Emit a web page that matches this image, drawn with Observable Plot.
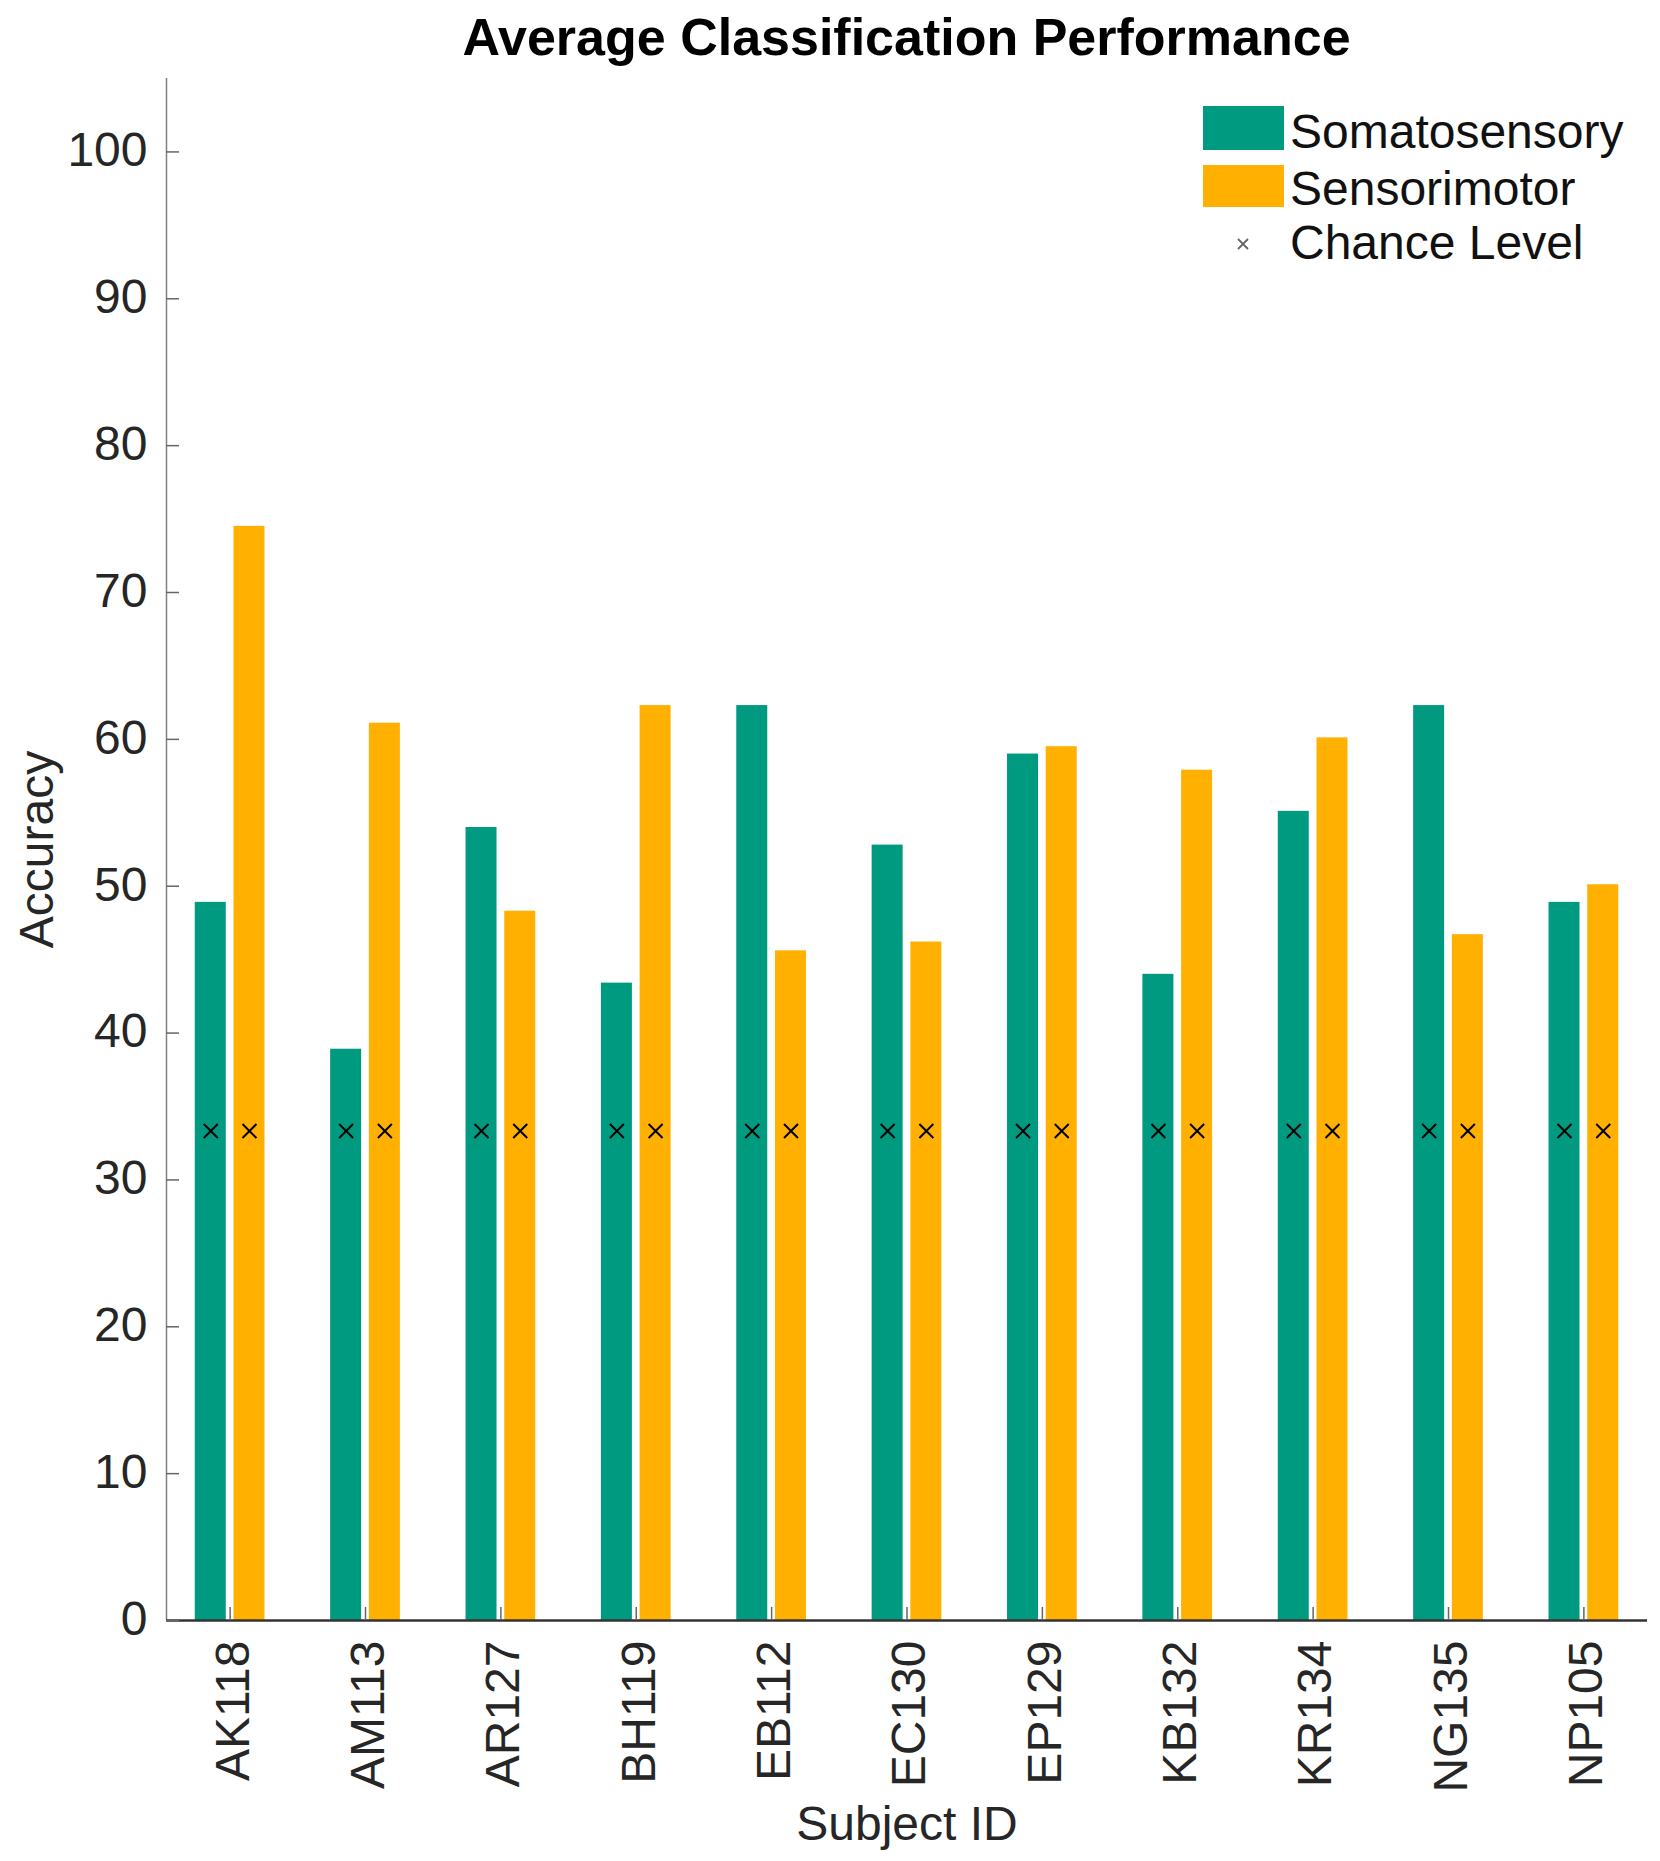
<!DOCTYPE html>
<html>
<head>
<meta charset="utf-8">
<script src="https://cdn.jsdelivr.net/npm/d3@7"></script>
<script src="https://cdn.jsdelivr.net/npm/@observablehq/plot@0.6"></script>
<style>
  body { margin: 0; background: #fff; font-family: "Liberation Sans", Arial, Helvetica, sans-serif; }
  #wrap { position: relative; width: 1660px; height: 1861px; overflow: hidden; }
  #title { height: 70px; box-sizing: border-box; padding: 11px 13px 0 166px; font-size: 52px; line-height: 52px;
           font-weight: bold; text-align: center; color: #000; white-space: nowrap; }
  #chart svg { display: block; }
  .lg-sw { position: absolute; left: 1203px; width: 81px; }
  .lg-tx { position: absolute; left: 1290px; font-size: 48px; line-height: 48px; color: #111; white-space: nowrap; }
  .lg-mk { position: absolute; left: 1235px; top: 236px; width: 16px; height: 16px; }
</style>
</head>
<body>
<div id="wrap">
  <div id="title">Average Classification Performance</div>
  <div id="chart"></div>
  <div id="legend"></div>
</div>
<script>
// ---- data ----
const subjects = ["AK118", "AM113", "AR127", "BH119", "EB112", "EC130", "EP129", "KB132", "KR134", "NG135", "NP105"];
const somatosensory = [48.9, 38.9, 54.0, 43.4, 62.3, 52.8, 59.0, 44.0, 55.1, 62.3, 48.9];
const sensorimotor  = [74.5, 61.1, 48.3, 62.3, 45.6, 46.2, 59.5, 57.9, 60.1, 46.7, 50.1];
const chanceLevel   = [33.33, 33.33, 33.33, 33.33, 33.33, 33.33, 33.33, 33.33, 33.33, 33.33, 33.33];
const seriesNames = ["Somatosensory", "Sensorimotor"];
const seriesColors = ["#009a80", "#ffb000"];
const yTicks = [0, 10, 20, 30, 40, 50, 60, 70, 80, 90, 100];
const xDomain = [0.53, subjects.length + 0.47];
const yDomain = [0, 105];

// grouped-bar layout (MATLAB style: 2 bars per group)
const groupOffset = 0.143, barHalf = 0.1145;
const seriesValues = [somatosensory, sensorimotor];
const rows = [];
subjects.forEach((s, i) => {
  seriesValues.forEach((arr, j) => {
    const c = i + 1 + (j === 0 ? -groupOffset : groupOffset);
    rows.push({subject: s, series: seriesNames[j], value: arr[i], chance: chanceLevel[i],
               x1: c - barHalf, x2: c + barHalf, xc: c});
  });
});
const xTicks = d3.range(1, subjects.length + 1);
const font = '"Liberation Sans", Arial, Helvetica, sans-serif';

const chart = Plot.plot({
  width: 1660,
  height: 1791,
  marginTop: 8,
  marginLeft: 166,
  marginRight: 13,
  marginBottom: 241,
  style: {fontFamily: font, fontSize: "48px", color: "#262626", background: "#fff", overflow: "visible"},
  x: {type: "linear", domain: xDomain, axis: null},
  y: {domain: yDomain, axis: null},
  color: {domain: seriesNames, range: seriesColors},
  marks: [
    Plot.rect(rows, {x1: "x1", x2: "x2", y1: 0, y2: "value", fill: "series"}),
    Plot.dot(rows, {x: "xc", y: "chance", symbol: "times", r: 6.4, stroke: "#000", strokeWidth: 2}),
    Plot.ruleX([xDomain[0]], {stroke: "#808080", strokeWidth: 1.5}),
    Plot.ruleY([0], {stroke: "#333", strokeWidth: 2.5}),
    Plot.axisY(yTicks, {tickSize: -13, tickFormat: () => "", stroke: "#666", strokeWidth: 1.5, label: null}),
    Plot.axisY(yTicks, {tickSize: 0, tickPadding: 19, dy: -1, fontSize: 48, fill: "#262626", label: null}),
    Plot.axisX(xTicks, {tickSize: -13, tickFormat: () => "", stroke: "#666", strokeWidth: 1.5, label: null}),
    Plot.axisX(xTicks, {tickSize: 0, tickPadding: 20, tickRotate: -90, dx: 3, tickFormat: i => subjects[i - 1],
                        fontSize: 48, fill: "#262626", label: null}),
    Plot.text(["Accuracy"], {text: d => d, frameAnchor: "left", dx: -114, rotate: -90, lineAnchor: "bottom",
                             textAnchor: "middle", fontSize: 48, fill: "#262626"}),
    Plot.text(["Subject ID"], {text: d => d, frameAnchor: "bottom", dy: 219, lineAnchor: "bottom",
                               textAnchor: "middle", fontSize: 48, fill: "#262626"})
  ]
});
document.getElementById("chart").appendChild(chart);

// ---- legend (HTML overlay inside the axes box) ----
const legend = document.getElementById("legend");
const swTops = [106, 165], swHeights = [44, 42], txTops = [108, 165, 219];
seriesNames.forEach((name, j) => {
  const sw = document.createElement("div");
  sw.className = "lg-sw";
  sw.style.top = swTops[j] + "px";
  sw.style.height = swHeights[j] + "px";
  sw.style.background = seriesColors[j];
  legend.appendChild(sw);
  const tx = document.createElement("div");
  tx.className = "lg-tx";
  tx.style.top = txTops[j] + "px";
  tx.textContent = name;
  legend.appendChild(tx);
});
const mk = document.createElementNS("http://www.w3.org/2000/svg", "svg");
mk.setAttribute("class", "lg-mk");
mk.setAttribute("viewBox", "0 0 16 16");
mk.innerHTML = '<path d="M3,3L13,13M3,13L13,3" stroke="#666" stroke-width="1.8" fill="none"/>';
legend.appendChild(mk);
const tx3 = document.createElement("div");
tx3.className = "lg-tx";
tx3.style.top = txTops[2] + "px";
tx3.textContent = "Chance Level";
legend.appendChild(tx3);
</script>
</body>
</html>
